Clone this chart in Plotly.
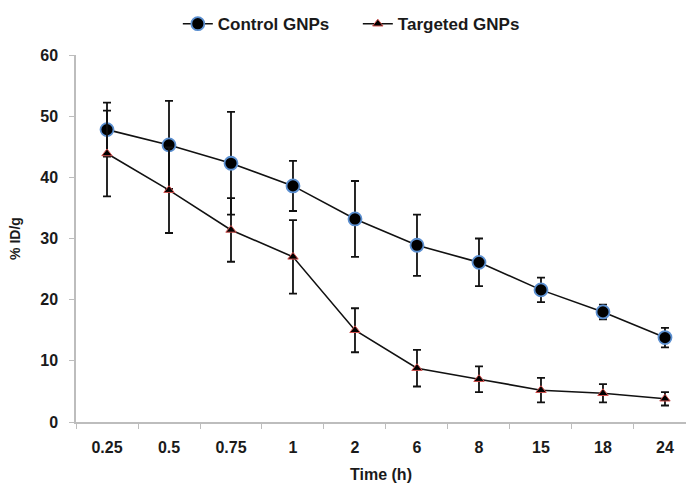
import plotly.graph_objects as go

# Sampling times (h) shown as categories on the x axis
times = ["0.25", "0.5", "0.75", "1", "2", "6", "8", "15", "18", "24"]

# Mean uptake (% ID/g) and standard deviations
control = [47.8, 45.3, 42.3, 38.6, 33.2, 28.9, 26.1, 21.6, 18.0, 13.8]
control_sd = [4.4, 7.2, 8.4, 4.1, 6.2, 5.0, 3.9, 2.0, 1.2, 1.6]
targeted = [43.9, 37.9, 31.4, 27.0, 15.0, 8.8, 7.0, 5.2, 4.7, 3.8]
targeted_sd = [7.0, 7.0, 5.2, 6.0, 3.6, 3.0, 2.1, 2.0, 1.5, 1.1]

y_ticks = [0, 10, 20, 30, 40, 50, 60]

FONT = "Liberation Sans, Arial, sans-serif"
AXIS_GRAY = "#bdbdbd"
TEXT = "#1a1a1a"

fig = go.Figure()

fig.add_trace(go.Scatter(
    x=times, y=control, name="Control GNPs",
    mode="lines+markers",
    line=dict(color="#111111", width=1.6),
    marker=dict(symbol="circle", size=13, color="#000000",
                line=dict(color="#5b8fd0", width=1.8)),
    error_y=dict(type="data", array=control_sd, visible=True,
                 color="#111111", thickness=1.8, width=4),
))

fig.add_trace(go.Scatter(
    x=times, y=targeted, name="Targeted GNPs",
    mode="lines+markers",
    line=dict(color="#111111", width=1.6),
    marker=dict(symbol="triangle-up", size=9, color="#000000",
                line=dict(color="#d0504d", width=1)),
    error_y=dict(type="data", array=targeted_sd, visible=True,
                 color="#111111", thickness=1.8, width=4),
))

fig.update_layout(
    width=686, height=483,
    margin=dict(l=76, r=0, t=55, b=61),
    paper_bgcolor="white", plot_bgcolor="white",
    font=dict(family=FONT, color=TEXT, size=16),
    showlegend=True,
    legend=dict(
        orientation="h", x=0.462, xanchor="center",
        y=1.084, yanchor="middle",
        font=dict(family=FONT, size=17, color=TEXT, weight="bold"),
        itemwidth=30, tracegroupgap=0, entrywidth=135,
    ),
    xaxis=dict(
        type="category",
        categoryorder="array", categoryarray=times,
        range=[-0.5, 9.339],
        tickson="boundaries",
        ticks="outside", ticklen=5, tickcolor=AXIS_GRAY, tickwidth=1,
        showline=True, linecolor=AXIS_GRAY, linewidth=1.5,
        showgrid=False, zeroline=False,
        tickfont=dict(family=FONT, size=16, color=TEXT, weight="bold"),
        ticklabelstandoff=10,
        title=dict(text="Time (h)", standoff=14,
                   font=dict(family=FONT, size=16, color=TEXT, weight="bold")),
    ),
    yaxis=dict(
        range=[0, 60], tickvals=y_ticks,
        ticks="outside", ticklen=5, tickcolor=AXIS_GRAY, tickwidth=1,
        showline=True, linecolor=AXIS_GRAY, linewidth=1.5,
        showgrid=False, zeroline=False,
        tickfont=dict(family=FONT, size=16, color=TEXT, weight="bold"),
        ticklabelstandoff=8,
        title=dict(text="% ID/g", standoff=16,
                   font=dict(family=FONT, size=14, color=TEXT, weight="bold")),
    ),
)

fig.write_html("out.html")
